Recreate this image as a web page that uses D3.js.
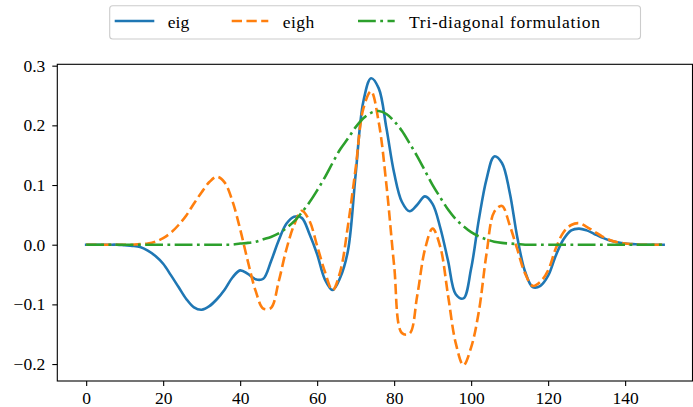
<!DOCTYPE html>
<html>
<head>
<meta charset="utf-8">
<script src="https://cdn.jsdelivr.net/npm/d3@7"></script>
<style>
  html, body { margin: 0; padding: 0; background: #fff; }
  svg { display: block; }
  text { font-family: "Liberation Serif", "DejaVu Serif", serif; fill: #000; }
</style>
</head>
<body>
<svg id="chart" width="693" height="407"></svg>
<script>
// ---------- data ----------
const xValues = [0,2,4,6,8,10,12,14,16,18,20,22,24,26,28,30,32,34,36,38,40,42,44,46,48,50,52,54,56,58,60,62,64,66,68,70,72,74,76,78,80,82,84,86,88,90,92,94,96,98,100,102,104,106,108,110,112,114,116,118,120,122,124,126,128,130,132,134,136,138,140,142,144,146,148,150];

const eigValues = [0,0,0,0,0,-0.001,-0.002,-0.004,-0.010,-0.019,-0.032,-0.051,-0.071,-0.091,-0.105,-0.109,-0.103,-0.091,-0.075,-0.055,-0.043,-0.049,-0.058,-0.057,-0.028,0.007,0.035,0.047,0.045,0.018,-0.016,-0.058,-0.076,-0.055,-0.010,0.118,0.240,0.279,0.262,0.195,0.120,0.072,0.056,0.067,0.081,0.068,0.028,-0.027,-0.083,-0.090,-0.040,0.042,0.110,0.148,0.137,0.088,0.012,-0.045,-0.071,-0.069,-0.052,-0.018,0.009,0.024,0.027,0.024,0.018,0.012,0.007,0.004,0.002,0.001,0,0,0,0];

const eighValues = [0,0,0,0,0,0,0,0.001,0.002,0.005,0.011,0.020,0.033,0.049,0.069,0.088,0.105,0.114,0.104,0.073,0.026,-0.028,-0.077,-0.107,-0.106,-0.062,-0.008,0.033,0.057,0.040,-0.002,-0.045,-0.076,-0.045,0.032,0.128,0.228,0.257,0.205,0.100,-0.035,-0.148,-0.149,-0.085,-0.008,0.027,-0.004,-0.085,-0.165,-0.202,-0.172,-0.112,-0.015,0.055,0.065,0.033,-0.008,-0.048,-0.069,-0.062,-0.043,-0.006,0.021,0.033,0.036,0.030,0.022,0.014,0.008,0.004,0.002,0.001,0,0,0,0];

const triValues = [0,0,0,0,0,0,0,0,0,0,0,0,0,0,0,0,0,0,0,0,0.002,0.003,0.005,0.009,0.013,0.019,0.028,0.039,0.054,0.071,0.091,0.113,0.137,0.160,0.178,0.197,0.212,0.221,0.224,0.219,0.207,0.191,0.170,0.148,0.124,0.100,0.079,0.059,0.043,0.031,0.021,0.014,0.009,0.005,0.003,0.002,0.001,0,0,0,0,0,0,0,0,0,0,0,0,0,0,0,0,0,0,0];

const seriesNames = ["eig", "eigh", "Tri-diagonal formulation"];
const xTicks = [0, 20, 40, 60, 80, 100, 120, 140];
const yTicks = [-0.2, -0.1, 0.0, 0.1, 0.2, 0.3];
const xDomain = [-7.5, 157.5];
const yDomain = [-0.2284, 0.3023];

// ---------- layout ----------
const svg = d3.select("#chart");
const plot = { left: 57.3, right: 692.5, top: 64.3, bottom: 381 };
const fontSize = 17.5;

const x = d3.scaleLinear().domain(xDomain).range([plot.left, plot.right]);
const y = d3.scaleLinear().domain(yDomain).range([plot.bottom, plot.top]);

const styles = [
  { color: "#1f77b4", dash: null, cap: "square" },
  { color: "#ff7f0e", dash: "10.3,4.45", cap: "butt" },
  { color: "#2ca02c", dash: "17.8,4.45,2.8,4.45", cap: "butt" }
];
const lineWidth = 2.6;
const allValues = [eigValues, eighValues, triValues];

svg.append("defs").append("clipPath").attr("id", "clip")
  .append("rect").attr("x", plot.left).attr("y", plot.top)
  .attr("width", plot.right - plot.left).attr("height", plot.bottom - plot.top);

const line = d3.line()
  .x(d => x(d[0]))
  .y(d => y(d[1]))
  .curve(d3.curveCatmullRom.alpha(0.5));

const lines = svg.append("g").attr("clip-path", "url(#clip)");
allValues.forEach((vals, i) => {
  const pts = xValues.map((xv, j) => [xv, vals[j]]);
  lines.append("path")
    .attr("d", line(pts))
    .attr("fill", "none")
    .attr("stroke", styles[i].color)
    .attr("stroke-width", lineWidth)
    .attr("stroke-linecap", styles[i].cap)
    .attr("stroke-linejoin", "round")
    .attr("stroke-dasharray", styles[i].dash);
});

// axes
const xAxis = d3.axisBottom(x).tickValues(xTicks).tickFormat(d3.format("d"))
  .tickSizeInner(5).tickSizeOuter(0).tickPadding(6);
const gx = svg.append("g").attr("transform", `translate(0,${plot.bottom})`).call(xAxis);

const fmtY = d => (d < 0 ? "\u2212" : "") + Math.abs(d).toFixed(1);
const yAxis = d3.axisLeft(y).tickValues(yTicks).tickFormat(fmtY)
  .tickSizeInner(5).tickSizeOuter(0).tickPadding(7);
const gy = svg.append("g").attr("transform", `translate(${plot.left},0)`).call(yAxis);

[gx, gy].forEach(g => {
  g.select(".domain").remove();
  g.selectAll(".tick line").attr("stroke", "#000").attr("stroke-width", 1.1);
  g.selectAll(".tick text").attr("font-size", fontSize).attr("fill", "#000")
    .style("font-family", '"Liberation Serif", serif');
});

// frame (spines)
svg.append("rect")
  .attr("x", plot.left).attr("y", plot.top)
  .attr("width", plot.right - plot.left).attr("height", plot.bottom - plot.top)
  .attr("fill", "none").attr("stroke", "#000").attr("stroke-width", 1.1);

// legend
const legend = svg.append("g");
legend.append("rect")
  .attr("x", 109.7).attr("y", 5.7).attr("width", 530.8).attr("height", 33.3)
  .attr("rx", 3).attr("ry", 3)
  .attr("fill", "#fff").attr("fill-opacity", 0.8)
  .attr("stroke", "#cccccc").attr("stroke-width", 1.1);

const legendItems = [
  { x0: 116, x1: 153, tx: 167.7, w: 21.5 },
  { x0: 231.7, x1: 268.3, tx: 282.7, w: 31.5 },
  { x0: 358, x1: 394.7, tx: 409, w: 191 }
];
legendItems.forEach((it, i) => {
  legend.append("line")
    .attr("x1", it.x0).attr("x2", it.x1).attr("y1", 21).attr("y2", 21)
    .attr("stroke", styles[i].color).attr("stroke-width", lineWidth)
    .attr("stroke-linecap", styles[i].cap)
    .attr("stroke-dasharray", styles[i].dash);
  legend.append("text")
    .attr("x", it.tx).attr("y", 27.5)
    .attr("font-size", fontSize)
    .attr("textLength", it.w)
    .attr("lengthAdjust", "spacing")
    .text(seriesNames[i]);
});
</script>
</body>
</html>
